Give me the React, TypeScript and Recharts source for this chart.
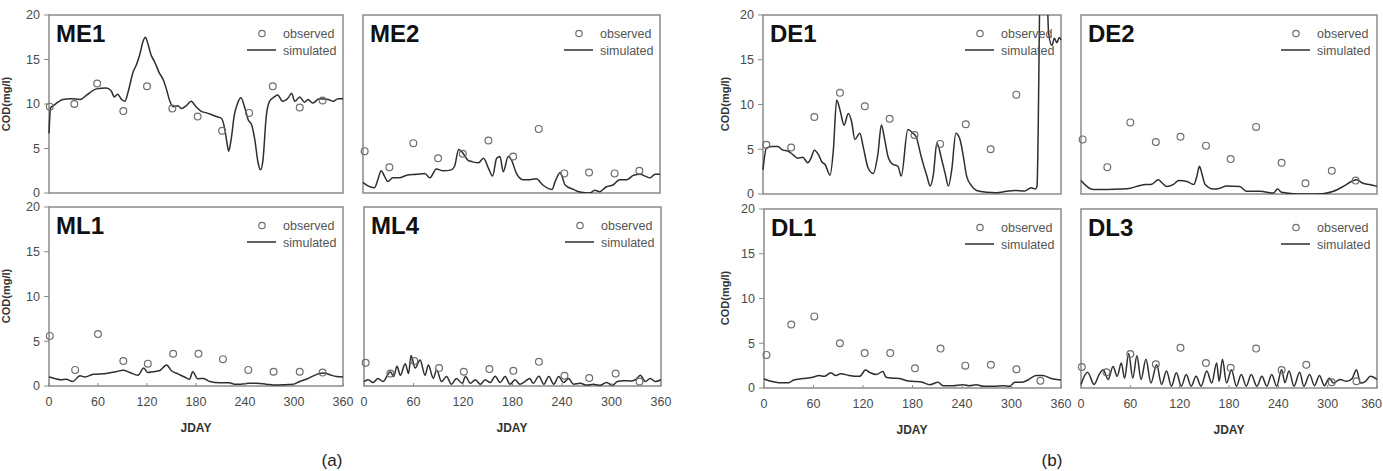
import { ComposedChart, Line, ReferenceArea, Scatter, XAxis, YAxis } from 'recharts';

type Pt = [number, number];

const jdayTicks = [0, 60, 120, 180, 240, 300, 360];
const codTicks = [0, 5, 10, 15, 20];

// station ME1
const me1Observed: Pt[] = [[1, 9.7], [31, 10.0], [59, 12.3], [91, 9.2], [120, 12.0], [151, 9.5], [182, 8.6], [212, 7.0], [245, 9.0], [274, 12.0], [307, 9.6], [335, 10.4]];
const me1Simulated: Pt[] = [
  [0, 6.7], [2, 9.6], [5, 9.8], [17, 10.5], [27, 10.6], [38, 10.5], [46, 11.0], [58, 11.7], [70, 11.8], [76, 11.5],
  [80, 10.8], [84, 11.1], [89, 10.5], [93, 10.3], [97, 11.4], [103, 13.6], [107, 14.4], [111, 15.5], [115, 17.0], [118, 17.5],
  [121, 16.8], [125, 15.5], [129, 14.8], [135, 13.5], [140, 12.7], [144, 11.6], [148, 10.3], [152, 9.7], [158, 9.8], [162, 9.5],
  [168, 9.8], [174, 10.3], [180, 9.7], [186, 9.2], [193, 9.0], [199, 8.8], [205, 8.6], [211, 8.4], [215, 7.3], [218, 5.6],
  [220, 4.7], [223, 6.0], [227, 8.8], [231, 10.1], [235, 10.7], [240, 9.5], [244, 8.2], [248, 7.7], [252, 6.0], [256, 3.4],
  [259, 2.6], [262, 3.7], [266, 8.6], [270, 10.3], [276, 10.8], [280, 11.0], [286, 10.3], [293, 10.7], [297, 11.2], [301, 10.3],
  [307, 10.8], [313, 10.2], [317, 10.5], [323, 10.1], [331, 10.6], [342, 10.5], [348, 10.3], [354, 10.6], [360, 10.6],
];

// station ME2
const me2Observed: Pt[] = [[2, 4.7], [32, 2.9], [61, 5.6], [91, 3.9], [121, 4.4], [152, 5.9], [182, 4.1], [213, 7.2], [244, 2.2], [274, 2.3], [305, 2.2], [335, 2.5]];
const me2Simulated: Pt[] = [
  [0, 1.2], [6, 0.8], [14, 0.6], [18, 1.5], [22, 2.5], [26, 1.9], [30, 1.3], [36, 1.7], [44, 1.7], [53, 2.0],
  [65, 2.1], [75, 2.2], [81, 1.7], [89, 2.7], [97, 2.5], [107, 2.6], [111, 3.0], [116, 4.9], [121, 4.5], [127, 3.7],
  [133, 3.5], [140, 3.4], [146, 3.9], [152, 2.8], [157, 1.9], [162, 3.9], [166, 4.1], [170, 2.4], [176, 4.1], [180, 3.7],
  [186, 2.2], [194, 1.5], [202, 1.5], [210, 1.6], [218, 0.9], [229, 0.4], [233, 1.3], [239, 2.3], [245, 0.9], [255, 0.4],
  [263, 0.1], [275, 0.0], [281, 0.3], [287, 0.15], [295, 0.7], [303, 0.9], [311, 1.5], [320, 1.5], [328, 2.0], [336, 2.1],
  [342, 1.9], [348, 1.7], [354, 2.1], [360, 2.1],
];

// station ML1
const ml1Observed: Pt[] = [[1, 5.6], [32, 1.8], [60, 5.8], [91, 2.8], [121, 2.5], [152, 3.6], [183, 3.6], [213, 3.0], [244, 1.8], [275, 1.6], [307, 1.6], [335, 1.5]];
const ml1Simulated: Pt[] = [
  [0, 1.0], [7, 0.85], [15, 0.7], [21, 0.75], [29, 0.5], [38, 1.15], [44, 1.0], [54, 1.3], [70, 1.4], [82, 1.6],
  [91, 1.75], [99, 1.5], [109, 1.2], [116, 2.0], [121, 1.5], [127, 1.6], [135, 1.7], [144, 2.35], [150, 1.7], [158, 1.35],
  [166, 1.0], [172, 0.75], [176, 1.6], [182, 0.8], [189, 0.85], [197, 0.5], [209, 0.35], [221, 0.35], [227, 0.2], [235, 0.2],
  [244, 0.3], [254, 0.3], [266, 0.2], [278, 0.1], [290, 0.15], [299, 0.2], [307, 0.5], [315, 0.75], [323, 1.1], [331, 1.4],
  [337, 1.45], [344, 1.25], [352, 1.05], [360, 1.0],
];

// station ML4
const ml4Observed: Pt[] = [[2, 2.6], [32, 1.4], [61, 2.8], [91, 2.0], [121, 1.6], [152, 1.9], [181, 1.7], [212, 2.7], [243, 1.15], [273, 0.9], [305, 1.4], [334, 0.5]];
const ml4Simulated: Pt[] = [
  [0, 0.5], [5, 0.7], [11, 0.4], [17, 0.85], [23, 0.5], [32, 1.6], [36, 1.05], [40, 2.2], [44, 1.2], [50, 2.5],
  [54, 1.4], [57, 3.4], [62, 2.0], [68, 2.9], [74, 1.2], [78, 2.35], [84, 0.85], [88, 1.8], [94, 0.5], [100, 1.05],
  [106, 0.2], [112, 0.85], [119, 0.3], [123, 1.05], [129, 0.3], [135, 0.7], [141, 0.2], [147, 0.7], [153, 0.4], [159, 1.1],
  [165, 0.4], [171, 1.05], [177, 0.2], [183, 0.7], [189, 0.2], [195, 0.5], [201, 0.85], [205, 0.3], [212, 1.1], [218, 0.2],
  [224, 1.05], [230, 0.2], [236, 1.05], [242, 0.4], [248, 0.85], [254, 0.2], [262, 0.3], [270, 0.1], [278, 0.2], [286, 0.07],
  [294, 0.4], [301, 0.07], [307, 0.5], [315, 0.6], [323, 0.55], [329, 0.7], [335, 1.2], [341, 0.5], [347, 0.85], [353, 0.5],
  [360, 0.7],
];

// station DE1
const de1Observed: Pt[] = [[4, 5.5], [34, 5.2], [62, 8.6], [93, 11.3], [123, 9.8], [153, 8.4], [183, 6.6], [214, 5.6], [245, 7.8], [275, 5.0], [306, 11.1]];
const de1Simulated: Pt[] = [
  [0, 2.7], [4, 5.1], [10, 5.3], [18, 5.3], [24, 4.9], [30, 4.8], [36, 4.4], [42, 4.0], [48, 4.1], [54, 3.5],
  [58, 4.0], [62, 4.9], [67, 4.4], [71, 3.6], [75, 3.3], [81, 2.1], [85, 4.9], [89, 10.5], [93, 9.4], [98, 7.7],
  [103, 9.0], [107, 8.1], [111, 6.1], [117, 6.8], [121, 5.3], [127, 2.9], [133, 2.3], [139, 4.6], [143, 7.7], [147, 6.1],
  [151, 4.2], [157, 3.3], [163, 3.1], [167, 2.0], [175, 7.2], [181, 6.8], [185, 6.4], [191, 4.2], [198, 2.0], [202, 0.9],
  [206, 2.3], [210, 5.7], [216, 3.8], [220, 2.3], [224, 0.9], [228, 2.7], [233, 6.8], [238, 6.1], [242, 4.2], [246, 2.0],
  [252, 0.9], [258, 0.4], [270, 0.2], [282, 0.15], [294, 0.3], [304, 0.4], [316, 0.33], [324, 0.7], [329, 0.55], [331, 0.85],
  [336, 30], [341, 30], [345, 18], [349, 16.6], [352, 17.4], [355, 16.9], [358, 17.5], [360, 17.2],
];

// station DE2
const de2Observed: Pt[] = [[2, 6.1], [32, 3.0], [60, 8.0], [91, 5.8], [121, 6.4], [152, 5.4], [182, 3.9], [213, 7.5], [244, 3.5], [273, 1.2], [305, 2.6], [334, 1.5]];
const de2Simulated: Pt[] = [
  [0, 1.5], [7, 0.85], [15, 0.5], [32, 0.5], [48, 0.55], [60, 0.65], [68, 0.85], [78, 1.05], [86, 1.1], [94, 1.6],
  [98, 1.3], [104, 0.85], [112, 1.05], [119, 1.5], [129, 1.4], [137, 1.05], [141, 2.0], [144, 3.1], [147, 2.3], [151, 1.05],
  [161, 0.55], [169, 0.65], [177, 0.9], [193, 0.85], [201, 0.3], [218, 0.3], [234, 0.1], [239, 0.55], [244, 0.2], [258, 0.04],
  [274, 0.0], [294, 0.04], [307, 0.3], [319, 0.85], [329, 1.4], [335, 1.6], [343, 1.2], [351, 1.05], [360, 0.85],
];

// station DL1
const dl1Observed: Pt[] = [[3, 3.7], [33, 7.1], [61, 8.0], [92, 5.0], [122, 3.9], [153, 3.9], [183, 2.2], [214, 4.4], [244, 2.5], [275, 2.6], [306, 2.1], [335, 0.8]];
const dl1Simulated: Pt[] = [
  [0, 1.0], [6, 0.8], [18, 0.6], [30, 0.6], [36, 0.9], [47, 1.05], [59, 1.2], [67, 1.4], [73, 1.3], [81, 1.7],
  [87, 1.4], [93, 1.6], [103, 1.4], [116, 1.3], [123, 2.0], [128, 1.75], [136, 1.5], [144, 1.85], [148, 1.2], [156, 1.1],
  [164, 1.05], [172, 0.85], [180, 0.75], [191, 0.67], [201, 0.37], [211, 0.63], [217, 0.26], [229, 0.26], [241, 0.37], [249, 0.26],
  [257, 0.37], [266, 0.19], [278, 0.19], [290, 0.26], [298, 0.19], [304, 0.63], [312, 0.63], [320, 0.9], [330, 1.4], [338, 1.4],
  [347, 1.1], [360, 0.9],
];

// station DL3
const dl3Observed: Pt[] = [[1, 2.35], [31, 1.75], [60, 3.8], [91, 2.65], [121, 4.5], [152, 2.8], [182, 2.25], [213, 4.4], [244, 2.0], [274, 2.6], [305, 0.65], [335, 0.75]];
const dl3Simulated: Pt[] = [
  [0, 0.4], [8, 1.75], [16, 0.4], [22, 1.5], [27, 2.05], [33, 0.95], [39, 2.4], [44, 1.3], [49, 2.8], [53, 1.1],
  [58, 3.85], [63, 1.1], [68, 3.6], [73, 0.95], [79, 3.2], [85, 0.55], [92, 2.6], [98, 0.4], [104, 1.9], [110, 0.2],
  [116, 1.7], [122, 0.2], [128, 1.5], [134, 0.2], [140, 1.3], [146, 0.2], [153, 1.9], [159, 0.55], [165, 2.8], [168, 0.75],
  [172, 3.2], [177, 0.55], [183, 2.05], [189, 0.2], [195, 1.5], [201, 0.2], [207, 1.5], [214, 0.2], [220, 1.3], [226, 0.2],
  [232, 1.5], [238, 0.2], [244, 2.05], [248, 0.6], [253, 1.9], [259, 0.2], [266, 1.75], [271, 0.2], [278, 1.5], [284, 0.26],
  [290, 1.4], [296, 0.26], [302, 1.1], [307, 0.55], [315, 0.95], [323, 0.75], [330, 1.1], [335, 2.05], [340, 0.55], [346, 0.75],
  [352, 1.3], [360, 0.95],
];

const font = '"Liberation Sans", Arial, Helvetica, sans-serif';
const frameColor = '#8a8a8a';
const lineColor = '#2e2e2e';
const tickStyle = { fill: '#4a4a4a', fontSize: 12.5, fontFamily: font };

const toRows = (pts: Pt[]) => pts.map(([day, cod]) => ({ day, cod }));

function ObservedDot(props: any) {
  if (props.cx == null || props.cy == null) return null;
  return <circle cx={props.cx} cy={props.cy} r={3.4} fill="none" stroke="#6e6e6e" strokeWidth={1.2} />;
}

// JDAY tick; the last label can hug the right edge so it stays on the page
function DayTick({ x, y, payload, endAlignLast }: any) {
  const last = payload.value === jdayTicks[jdayTicks.length - 1];
  const anchor = endAlignLast && last ? 'end' : 'middle';
  return (
    <text x={endAlignLast && last ? x + 5 : x} y={y} dy="0.71em" textAnchor={anchor} {...tickStyle}>
      {payload.value}
    </text>
  );
}

type PanelProps = {
  title: string;
  left: number;
  top: number;
  width: number;
  height: number;
  observed: Pt[];
  simulated: Pt[];
  yLabels?: boolean;
  xLabels?: boolean;
  atPageEdge?: boolean;
};

// one station: framed plot box, tick labels only on the outer edges of each 2x2 block
function Panel({ title, left, top, width, height, observed, simulated, yLabels, xLabels, atPageEdge }: PanelProps) {
  const padL = yLabels ? 49 : 8;
  const padT = 8;
  const padR = atPageEdge ? 6 : 14;
  const padB = xLabels ? 28 : 8;
  const w = width + padL + padR;
  const h = height + padT + padB;

  return (
    <div style={{ position: 'absolute', left: left - padL, top: top - padT, width: w, height: h }}>
      <ComposedChart
        width={w}
        height={h}
        margin={{ top: padT, right: padR, bottom: xLabels ? 0 : padB, left: yLabels ? 0 : padL }}
      >
        <XAxis
          type="number"
          dataKey="day"
          domain={[0, 360]}
          ticks={jdayTicks}
          interval={0}
          hide={!xLabels}
          height={xLabels ? padB : 0}
          axisLine={false}
          tickSize={-3}
          tickMargin={14}
          tickLine={{ stroke: frameColor }}
          tick={<DayTick endAlignLast={atPageEdge} />}
        />
        <YAxis
          type="number"
          dataKey="cod"
          domain={[0, 20]}
          ticks={codTicks}
          interval={0}
          allowDataOverflow
          hide={!yLabels}
          width={yLabels ? padL : 0}
          axisLine={false}
          tickSize={5}
          tickMargin={4}
          tickLine={{ stroke: frameColor }}
          tick={tickStyle}
        />
        <ReferenceArea x1={0} x2={360} y1={0} y2={20} fill="none" stroke={frameColor} strokeWidth={1.5} />
        <Scatter data={toRows(observed)} shape={<ObservedDot />} isAnimationActive={false} />
        <Line
          data={toRows(simulated)}
          dataKey="cod"
          type="monotone"
          stroke={lineColor}
          strokeWidth={1.5}
          dot={false}
          activeDot={false}
          isAnimationActive={false}
        />
      </ComposedChart>
      <svg
        width={width}
        height={height}
        style={{ position: 'absolute', left: padL, top: padT, overflow: 'visible', pointerEvents: 'none' }}
      >
        <text x={7} y={27} fontSize={24} fontWeight="bold" fill="#111" fontFamily={font}>{title}</text>
        <circle cx={width - 81} cy={18.5} r={3.2} fill="none" stroke="#6e6e6e" strokeWidth={1.2} />
        <text x={width - 60} y={23} fontSize={12.5} fill="#555" fontFamily={font}>observed</text>
        <line x1={width - 96} x2={width - 67} y1={35} y2={35} stroke={lineColor} strokeWidth={1.5} />
        <text x={width - 60} y={39.5} fontSize={12.5} fill="#555" fontFamily={font}>simulated</text>
      </svg>
    </div>
  );
}

export default function App() {
  const axisTitle = { fontSize: 12, fontWeight: 'bold' as const, fill: '#333', fontFamily: font };
  return (
    <div style={{ position: 'absolute', left: 0, top: 0, width: 1383, height: 471, background: '#fff', overflow: 'hidden', fontFamily: font }}>
      <svg width={1383} height={471} style={{ position: 'absolute', left: 0, top: 0 }}>
        <text x={10} y={104} transform="rotate(-90 10 104)" textAnchor="middle" {...axisTitle} fontSize={11}>COD(mg/l)</text>
        <text x={10} y={296} transform="rotate(-90 10 296)" textAnchor="middle" {...axisTitle} fontSize={11}>COD(mg/l)</text>
        <text x={729} y={104} transform="rotate(-90 729 104)" textAnchor="middle" {...axisTitle} fontSize={11}>COD(mg/l)</text>
        <text x={729} y={298} transform="rotate(-90 729 298)" textAnchor="middle" {...axisTitle} fontSize={11}>COD(mg/l)</text>
        <text x={196} y={432} textAnchor="middle" {...axisTitle}>JDAY</text>
        <text x={512} y={432} textAnchor="middle" {...axisTitle}>JDAY</text>
        <text x={912} y={434} textAnchor="middle" {...axisTitle}>JDAY</text>
        <text x={1229} y={434} textAnchor="middle" {...axisTitle}>JDAY</text>
        <text x={332} y={466} textAnchor="middle" fontSize={17} fill="#222" fontFamily={font}>(a)</text>
        <text x={1052} y={466} textAnchor="middle" fontSize={17} fill="#222" fontFamily={font}>(b)</text>
      </svg>

      <Panel title="ME1" left={49} top={15} width={294} height={178} observed={me1Observed} simulated={me1Simulated} yLabels />
      <Panel title="ME2" left={363} top={15} width={297} height={178} observed={me2Observed} simulated={me2Simulated} />
      <Panel title="ML1" left={49} top={207} width={294} height={179} observed={ml1Observed} simulated={ml1Simulated} yLabels xLabels />
      <Panel title="ML4" left={364} top={207} width={297} height={179} observed={ml4Observed} simulated={ml4Simulated} xLabels />

      <Panel title="DE1" left={763} top={15} width={298} height={179} observed={de1Observed} simulated={de1Simulated} yLabels />
      <Panel title="DE2" left={1081} top={15} width={296} height={179} observed={de2Observed} simulated={de2Simulated} atPageEdge />
      <Panel title="DL1" left={764} top={209} width={297} height={179} observed={dl1Observed} simulated={dl1Simulated} yLabels xLabels />
      <Panel title="DL3" left={1081} top={209} width={296} height={179} observed={dl3Observed} simulated={dl3Simulated} xLabels atPageEdge />
    </div>
  );
}
